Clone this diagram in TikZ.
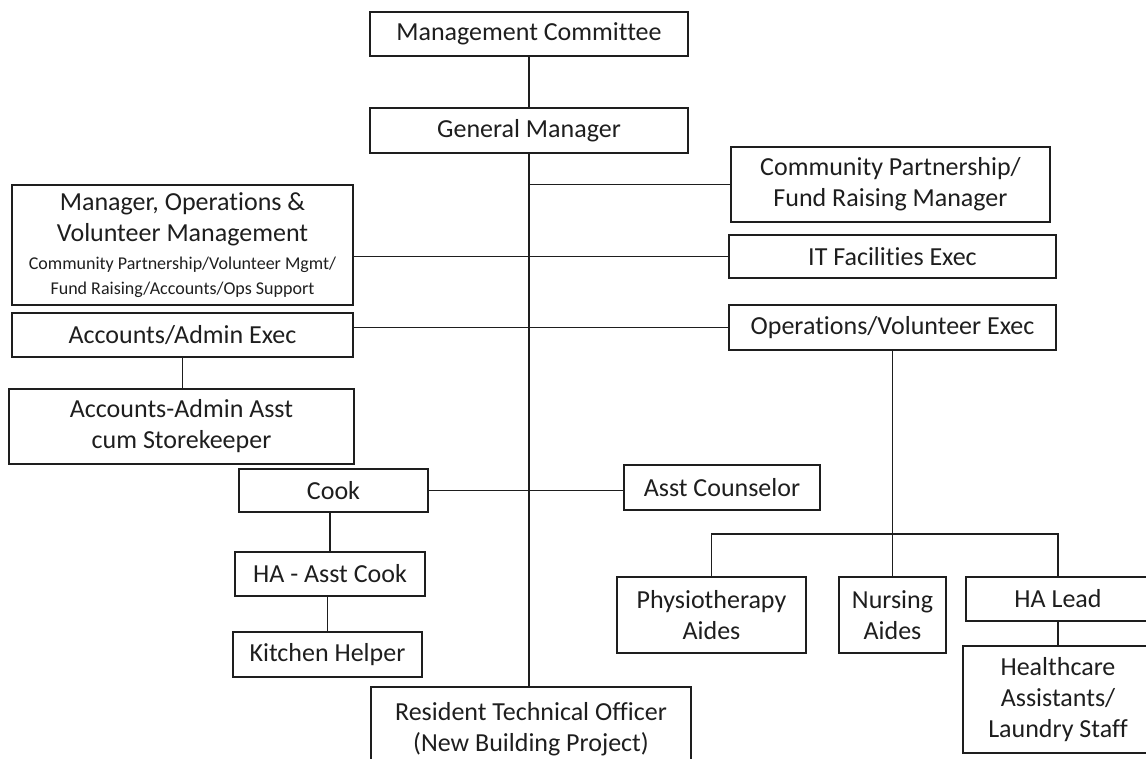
\documentclass[tikz,border=0pt]{standalone}
\usepackage{fontspec}
\setmainfont{Carlito}[Ligatures=NoCommon]
\newcommand{\bigfnt}{\fontsize{26}{31}\selectfont}
\newcommand{\smallfnt}{\fontsize{18}{21}\selectfont}
\definecolor{ink}{HTML}{1E1E1E}
\begin{document}
\begin{tikzpicture}[x=1pt,y=-1pt,
  box/.style={draw=ink, line width=1.9pt, inner sep=0pt, align=center, text=ink, font=\bigfnt},
  conn/.style={draw=ink, line width=1.9pt}]
\useasboundingbox (0,0) rectangle (1146,759);

\node[box, minimum width=318pt, minimum height=44pt] (mc) at (529,34) {Management Committee};
\node[box, minimum width=318pt, minimum height=45pt] (gm) at (529,130.5) {General Manager};
\node[box, minimum width=319pt, minimum height=75pt] (cp) at (890.5,184.5) {Community Partnership/\\Fund Raising Manager};
\node[box, minimum width=327pt, minimum height=43pt] (it) at (892.5,256.5) {IT Facilities Exec};
\node[box, minimum width=327pt, minimum height=45pt] (ops) at (892.5,327.5) {Operations/Volunteer Exec};
\node[box, minimum width=341pt, minimum height=120pt] (mo) at (182.5,245) {Manager, Operations \&\\Volunteer Management\\[-3pt]\smallfnt Community Partnership/Volunteer Mgmt/\\[-6pt]\smallfnt Fund Raising/Accounts/Ops Support};
\node[box, minimum width=341pt, minimum height=44pt] (aa) at (182.5,335) {Accounts/Admin Exec};
\node[box, minimum width=345pt, minimum height=75pt] (aaa) at (181.5,426.5) {Accounts-Admin Asst\\cum Storekeeper};
\node[box, minimum width=189pt, minimum height=43pt] (cook) at (333.5,490.5) {Cook};
\node[box, minimum width=196pt, minimum height=45pt] (ac) at (722,487.5) {Asst Counselor};
\node[box, minimum width=190pt, minimum height=44pt] (haac) at (330,574) {HA - Asst Cook};
\node[box, minimum width=189pt, minimum height=45pt] (kh) at (327.5,654.5) {Kitchen Helper};
\node[box, minimum width=320pt, minimum height=84pt] (rto) at (531,729) {Resident Technical Officer\\(New Building Project)};
\node[box, minimum width=189pt, minimum height=76pt] (physio) at (711.5,615) {Physiotherapy\\Aides};
\node[box, minimum width=107pt, minimum height=76pt] (nurs) at (892.5,615) {Nursing\\Aides};
\node[box, minimum width=184pt, minimum height=44pt] (hal) at (1058,599) {HA Lead};
\node[box, minimum width=190pt, minimum height=107pt] (hc) at (1058,699.5) {Healthcare\\Assistants/\\Laundry Staff};

\draw[conn] (mc.south) -- (gm.north);
\draw[conn] (gm.south) -- (gm.south |- rto.north);
\coordinate (j1) at (gm.south |- cp.west);
\draw[conn] (j1) -- (cp.west);
\draw[conn] (it.west -| mo.east) -- (it.west);
\draw[conn] (ops.west -| aa.east) -- (ops.west);
\draw[conn] (aa.south) -- (aa.south |- aaa.north);
\draw[conn] (cook.east) -- (cook.east -| ac.west);
\draw[conn] (haac.north) -- (haac.north |- cook.south);
\draw[conn] (kh.north) -- (kh.north |- haac.south);
\draw[conn] (ops.south) -- (nurs.north);
\coordinate (bar) at (892.5,534);
\draw[conn] (physio.north) |- (bar) -| (hal.north);
\draw[conn] (hal.south) -- (hc.north);
\end{tikzpicture}
\end{document}
